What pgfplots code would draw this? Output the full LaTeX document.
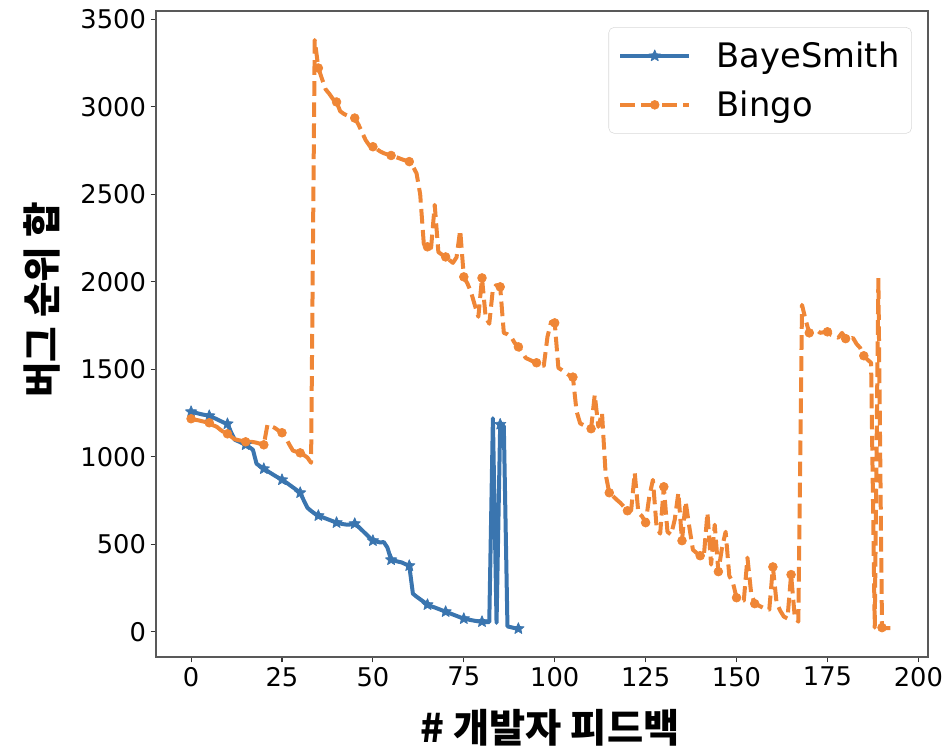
\documentclass[border=0pt]{standalone}
\usepackage{pgfplots}
\pgfplotsset{compat=1.18}
\usepackage{pgfplotstable}
\usepackage{fontspec}
\setmainfont{DejaVu Sans}
\newfontfamily\kr{Noto Sans CJK KR}
\usetikzlibrary{plotmarks}

\definecolor{bsblue}{RGB}{58,117,175}
\definecolor{bgorange}{RGB}{239,134,54}

% filled five-pointed star, like matplotlib's '*'
\pgfdeclareplotmark{fstar}{%
  \pgfpathmoveto{\pgfpointpolar{90}{\pgfplotmarksize}}%
  \pgfpathlineto{\pgfpointpolar{126}{0.45\pgfplotmarksize}}%
  \pgfpathlineto{\pgfpointpolar{162}{\pgfplotmarksize}}%
  \pgfpathlineto{\pgfpointpolar{198}{0.45\pgfplotmarksize}}%
  \pgfpathlineto{\pgfpointpolar{234}{\pgfplotmarksize}}%
  \pgfpathlineto{\pgfpointpolar{270}{0.45\pgfplotmarksize}}%
  \pgfpathlineto{\pgfpointpolar{306}{\pgfplotmarksize}}%
  \pgfpathlineto{\pgfpointpolar{342}{0.45\pgfplotmarksize}}%
  \pgfpathlineto{\pgfpointpolar{18}{\pgfplotmarksize}}%
  \pgfpathlineto{\pgfpointpolar{54}{0.45\pgfplotmarksize}}%
  \pgfpathclose\pgfusepathqfillstroke}

\pgfplotstableread{
x y
0 1257
1 1252
2 1247
3 1242
4 1238
5 1234
6 1225
7 1215
8 1205
9 1195
10 1188
11 1140
12 1097
13 1088
14 1078
15 1068
16 1055
17 1040
18 960
19 945
20 931
21 918
22 905
23 892
24 880
25 868
26 855
27 840
28 825
29 810
30 794
31 750
32 708
33 690
34 675
35 663
36 655
37 647
38 639
39 631
40 623
41 618
42 614
43 611
44 613
45 617
46 600
47 580
48 560
49 540
50 520
51 515
52 510
53 512
54 480
55 411
56 405
57 400
58 395
59 385
60 377
61 217
62 200
63 185
64 170
65 154
66 145
67 138
68 130
69 122
70 114
71 106
72 98
73 90
74 82
75 74
76 70
77 66
78 62
79 59
80 57
81 55
82 55
83 1220
84 50
85 1185
86 1175
87 30
88 25
89 20
90 17
}\bayesmith

\pgfplotstableread{
x y
0 1217
1 1212
2 1208
3 1203
4 1198
5 1194
6 1180
7 1172
8 1155
9 1140
10 1131
11 1115
12 1100
13 1095
14 1090
15 1085
16 1085
17 1084
18 1080
19 1074
20 1068
21 1183
22 1175
23 1165
24 1150
25 1137
26 1110
27 1070
28 1035
29 1028
30 1022
31 1010
32 995
33 965
34 3382
35 3222
36 3160
37 3100
38 3075
39 3045
40 3028
41 2975
42 2960
43 2950
44 2940
45 2936
46 2900
47 2855
48 2810
49 2780
50 2772
51 2760
52 2745
53 2735
54 2728
55 2722
56 2715
57 2708
58 2700
59 2693
60 2687
61 2660
62 2620
63 2500
64 2215
65 2200
66 2194
67 2440
68 2170
69 2155
70 2142
71 2125
72 2108
73 2140
74 2296
75 2028
76 1990
77 1940
78 1868
79 1800
80 2022
81 1800
82 1760
83 1960
84 1982
85 1971
86 1708
87 1700
88 1685
89 1650
90 1628
91 1600
92 1565
93 1555
94 1545
95 1537
96 1528
97 1520
98 1685
99 1771
100 1765
101 1508
102 1495
103 1480
104 1465
105 1455
106 1260
107 1190
108 1180
109 1170
110 1160
111 1354
112 1171
113 1251
114 900
115 794
116 775
117 755
118 737
119 715
120 691
121 690
122 908
123 680
124 660
125 623
126 771
127 868
128 600
129 560
130 828
131 571
132 554
133 640
134 794
135 520
136 743
137 600
138 468
139 450
140 434
141 430
142 680
143 383
144 611
145 343
146 480
147 571
148 320
149 280
150 194
151 185
152 178
153 423
154 223
155 160
156 150
157 140
158 130
159 126
160 370
161 166
162 120
163 86
164 75
165 326
166 86
167 57
168 1868
169 1782
170 1708
171 1715
172 1725
173 1708
174 1712
175 1714
176 1697
177 1690
178 1680
179 1708
180 1675
181 1668
182 1680
183 1645
184 1622
185 1577
186 1555
187 1537
188 23
189 2022
190 23
191 20
192 20
193 20
}\bingo

\begin{document}
\begin{tikzpicture}
\begin{axis}[
  name=ax,
  scale only axis,
  width=579pt, height=484.5pt,
  xmin=-9.65, xmax=202.65,
  ymin=-145, ymax=3548,
  xtick={0,25,...,200},
  ytick={0,500,...,3500},
  tick pos=left,
  tick align=outside,
  major tick length=4pt,
  axis line style={black!65, line width=0.8pt},
  tick style={black!80, line width=0.8pt},
  /pgf/number format/assume math mode=true,
  /pgf/number format/1000 sep={},
  ticklabel style={font=\fontsize{19.3}{23}\selectfont},
  legend cell align=left,
  legend style={
    at={(0.979,0.975)}, anchor=north east,
    font=\fontsize{25.3}{30}\selectfont,
    draw=black!15, rounded corners=4pt,
    inner xsep=7pt, inner ysep=9pt,
    row sep=12pt,
    /tikz/every odd column/.append style={column sep=17pt},
  },
  legend image code/.code={%
    \draw[mark repeat=2, mark phase=2, #1]
      plot coordinates {(0pt,0pt) (26pt,0pt) (52pt,0pt)};},
]
\addplot[bsblue, line width=3pt, line join=round,
  mark=fstar, mark repeat=5, mark size=4.5pt,
  mark options={solid, fill=bsblue, line width=0.5pt}]
  table[x=x, y=y] {\bayesmith};
\addlegendentry{BayeSmith}
\addplot[bgorange, line width=3pt, line join=round,
  dash pattern=on 11pt off 4.8pt,
  mark=*, mark repeat=5, mark size=3.3pt,
  mark options={solid, fill=bgorange, line width=0.5pt}]
  table[x=x, y=y] {\bingo};
\addlegendentry{Bingo}
\end{axis}
\node[rotate=90, font=\kr\bfseries\fontsize{29}{35}\selectfont]
  at ([shift={(-85.5pt,267.75pt)}]ax.south west) {버그 순위 합};
\node[font=\kr\bfseries\fontsize{29.5}{35}\selectfont]
  at ([shift={(295.5pt,-53pt)}]ax.south west) {\# 개발자 피드백};
\pgfresetboundingbox
\path ([shift={(-117pt,-67.5pt)}]ax.south west)
  rectangle ([shift={(592.5pt,492.75pt)}]ax.south west);
\end{tikzpicture}
\end{document}
